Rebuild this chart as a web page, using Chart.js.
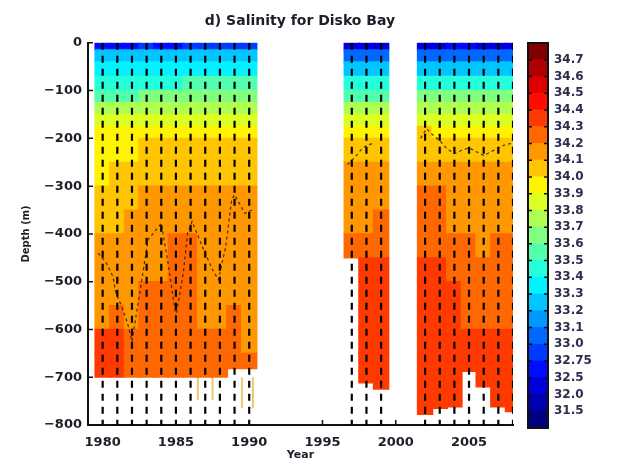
<!DOCTYPE html>
<html>
<head>
<meta charset="utf-8">
<script src="https://cdn.jsdelivr.net/npm/chart.js@4.4.0/dist/chart.umd.min.js"></script>
<style>
    html, body { margin: 0; padding: 0; background: #fff; }
    #wrap { position: relative; width: 620px; height: 464px; }
    #main { position: absolute; left: 0; top: 0; }
    #cbar { position: absolute; left: 520px; top: 0; }
</style>
</head>
<body>
<div id="wrap">
    <canvas id="main" width="620" height="464"></canvas>
    <canvas id="cbar" width="100" height="464"></canvas>
</div>
<script>
// station years and the depth where each cast ends
const stationYears = [1980, 1981, 1982, 1983, 1984, 1985, 1986, 1987, 1988, 1989, 1990,
    1997, 1998, 1999, 2002, 2003, 2004, 2005, 2006, 2007, 2008];
const castBottom = [-700, -700, -700, -700, -700, -700, -700, -700, -700, -682, -682,
    -450, -712, -725, -778, -765, -762, -688, -720, -762, -772];

// depth bands (m)
const bandEdges = [0, -15, -40, -70, -100, -125, -150, -175, -200, -250, -300, -350,
    -400, -450, -500, -550, -600, -650, -700, -750, -800];

// salinity per station (rows) and band (columns)
const salinityGrid = [
    [32.6, 33.25, 33.35, 33.45, 33.55, 33.75, 33.85, 33.95, 33.95, 33.95, 34.05, 34.05, 34.15, 34.15, 34.15, 34.15, 34.35, 34.35],
    [32.6, 33.25, 33.35, 33.45, 33.55, 33.75, 33.85, 33.95, 33.95, 34.05, 34.05, 34.05, 34.15, 34.15, 34.15, 34.25, 34.35, 34.35],
    [32.6, 33.25, 33.35, 33.45, 33.55, 33.75, 33.85, 33.95, 33.95, 34.05, 34.05, 34.15, 34.15, 34.15, 34.15, 34.15, 34.25, 34.25],
    [32.9, 33.25, 33.35, 33.45, 33.65, 33.75, 33.85, 33.95, 34.05, 34.05, 34.15, 34.15, 34.15, 34.15, 34.25, 34.25, 34.25, 34.25],
    [32.6, 33.25, 33.35, 33.45, 33.65, 33.75, 33.85, 33.95, 34.05, 34.05, 34.15, 34.15, 34.15, 34.15, 34.25, 34.25, 34.25, 34.25],
    [32.6, 33.25, 33.35, 33.45, 33.65, 33.75, 33.85, 33.95, 34.05, 34.05, 34.15, 34.15, 34.25, 34.25, 34.25, 34.25, 34.25, 34.25],
    [32.9, 33.25, 33.35, 33.55, 33.65, 33.75, 33.85, 33.95, 34.05, 34.05, 34.15, 34.15, 34.25, 34.25, 34.25, 34.25, 34.25, 34.25],
    [32.9, 33.25, 33.35, 33.55, 33.65, 33.75, 33.85, 33.95, 34.05, 34.05, 34.15, 34.15, 34.15, 34.15, 34.15, 34.15, 34.25, 34.25],
    [32.9, 33.25, 33.35, 33.55, 33.65, 33.75, 33.85, 33.95, 34.05, 34.05, 34.15, 34.15, 34.15, 34.15, 34.15, 34.15, 34.25, 34.25],
    [32.9, 33.25, 33.35, 33.55, 33.65, 33.75, 33.85, 33.95, 34.05, 34.05, 34.15, 34.15, 34.15, 34.15, 34.15, 34.25, 34.25, 34.25],
    [32.9, 33.25, 33.35, 33.55, 33.65, 33.75, 33.85, 33.95, 34.05, 34.05, 34.15, 34.15, 34.15, 34.15, 34.15, 34.15, 34.15, 34.25],
    [32.2, 33.05, 33.25, 33.45, 33.55, 33.75, 33.85, 33.95, 34.05, 34.15, 34.15, 34.15, 34.25],
    [32.2, 33.05, 33.25, 33.45, 33.55, 33.75, 33.85, 33.95, 34.05, 34.15, 34.15, 34.15, 34.25, 34.35, 34.35, 34.35, 34.35, 34.35, 34.35],
    [32.2, 33.05, 33.25, 33.45, 33.55, 33.75, 33.85, 33.95, 34.05, 34.15, 34.15, 34.25, 34.25, 34.35, 34.35, 34.35, 34.35, 34.35, 34.35],
    [32.2, 33.05, 33.25, 33.45, 33.65, 33.75, 33.85, 34.05, 34.05, 34.15, 34.25, 34.25, 34.25, 34.35, 34.35, 34.35, 34.35, 34.35, 34.35, 34.35],
    [32.2, 33.05, 33.25, 33.45, 33.65, 33.75, 33.85, 33.95, 34.05, 34.15, 34.25, 34.25, 34.25, 34.35, 34.35, 34.35, 34.35, 34.35, 34.35, 34.35],
    [32.6, 33.05, 33.25, 33.45, 33.65, 33.75, 33.85, 33.95, 34.05, 34.15, 34.15, 34.15, 34.25, 34.25, 34.35, 34.35, 34.35, 34.35, 34.35, 34.35],
    [32.6, 33.05, 33.25, 33.45, 33.65, 33.75, 33.85, 33.95, 34.05, 34.15, 34.15, 34.15, 34.25, 34.25, 34.25, 34.25, 34.35, 34.35],
    [32.2, 33.05, 33.25, 33.45, 33.65, 33.75, 33.85, 33.95, 34.05, 34.15, 34.15, 34.15, 34.15, 34.25, 34.25, 34.25, 34.35, 34.35, 34.35],
    [32.2, 33.05, 33.25, 33.45, 33.65, 33.75, 33.85, 33.95, 34.05, 34.15, 34.15, 34.15, 34.25, 34.25, 34.25, 34.25, 34.35, 34.35, 34.35, 34.35],
    [32.2, 33.05, 33.25, 33.45, 33.65, 33.75, 33.85, 33.95, 34.05, 34.15, 34.15, 34.15, 34.25, 34.25, 34.25, 34.25, 34.35, 34.35, 34.35, 34.35]
];

// contour line traced through the fields
const contourYear = [1979.7, 1980.25, 1980.7, 1980.9, 1981.3, 1981.7, 1982.0, 1982.6, 1983.1, 1984.0, 1984.5, 1985.0, 1985.5, 1985.8, 1986.1, 1986.9, 1987.5, 1987.9, 1988.4, 1988.8, 1989.0, 1989.7, 1990.2,
    null,
    1996.7, 1997.2, 1997.6, 1998.0, 1998.5,
    null,
    2001.7, 2002.1, 2002.6, 2003.0, 2003.5, 2004.0, 2004.5, 2005.0, 2005.5, 2006.0, 2006.5, 2007.0, 2007.5, 2008.0];
const contourDepth = [-440, -461, -489, -524, -552, -587, -625, -510, -412, -378, -468, -573, -482, -399, -374, -434, -475, -496, -427, -329, -318, -357, -350,
    null,
    -255, -240, -225, -215, -210,
    null,
    -200, -180, -195, -205, -222, -232, -225, -220, -228, -236, -228, -220, -213, -210];

// pale deep casts below the filled area
const deepCastYear = [1986.5, 1987.5, 1989.5, 1990.25];
const deepCastBottom = [-748, -748, -765, -765];

// colour levels
const levels = [31.5, 32.0, 32.5, 32.75, 33.0, 33.1, 33.2, 33.3, 33.4, 33.5, 33.6, 33.7, 33.8, 33.9, 34.0, 34.1, 34.2, 34.3, 34.4, 34.5, 34.6, 34.7];
const levelLabels = ["31.5", "32.0", "32.5", "32.75", "33.0", "33.1", "33.2", "33.3", "33.4", "33.5", "33.6", "33.7", "33.8", "33.9", "34.0", "34.1", "34.2", "34.3", "34.4", "34.5", "34.6", "34.7"];

const xTicks = [1980, 1985, 1990, 1995, 2000, 2005];
const yTicks = [0, -100, -200, -300, -400, -500, -600, -700, -800];

const FONT = "'DejaVu Sans', sans-serif";
const TEXT = "#1e1e28";

function clamp(v) { return Math.max(0, Math.min(1, v)); }

function jet(t) {
    const r = clamp(1.5 - Math.abs(4 * t - 3));
    const g = clamp(1.5 - Math.abs(4 * t - 2));
    const b = clamp(1.5 - Math.abs(4 * t - 1));
    return `rgb(${Math.round(r * 255)},${Math.round(g * 255)},${Math.round(b * 255)})`;
}

const segColors = [];
for (let k = 0; k <= levels.length; k++) segColors.push(jet(k / levels.length));

function colorFor(s) {
    return segColors[levels.filter(l => s >= l).length];
}

function buildCells() {
    const cells = [];
    stationYears.forEach((yr, i) => {
        const row = salinityGrid[i];
        for (let j = 0; j < bandEdges.length - 1; j++) {
            const top = bandEdges[j];
            if (top <= castBottom[i] || row[j] == null) continue;
            const lo = Math.max(bandEdges[j + 1], castBottom[i]);
            cells.push({ x: yr, y: [lo, top], s: row[j] });
        }
    });
    return cells;
}

function stationLines() {
    const pts = [];
    stationYears.forEach(yr => {
        pts.push({ x: yr, y: 0 }, { x: yr, y: -800 }, { x: yr, y: null });
    });
    return pts;
}

function deepLines() {
    const pts = [];
    deepCastYear.forEach((yr, i) => {
        pts.push({ x: yr, y: -700 }, { x: yr, y: deepCastBottom[i] }, { x: yr, y: null });
    });
    return pts;
}

const innerTicks = {
    id: "innerTicks",
    afterDatasetsDraw(chart) {
        const { ctx, chartArea: a, scales: { x, y } } = chart;
        ctx.save();
        ctx.strokeStyle = "#111";
        ctx.lineWidth = 1.5;
        ctx.beginPath();
        yTicks.forEach(v => {
            const py = y.getPixelForValue(v);
            ctx.moveTo(a.left, py);
            ctx.lineTo(a.left + 5, py);
        });
        xTicks.forEach(v => {
            const px = x.getPixelForValue(v);
            ctx.moveTo(px, a.bottom);
            ctx.lineTo(px, a.bottom - 5);
        });
        ctx.stroke();
        ctx.restore();
    }
};

new Chart(document.getElementById("main"), {
    type: "bar",
    data: {
        datasets: [
            {
                type: "line",
                data: stationLines(),
                borderColor: "#000",
                borderWidth: 2.2,
                borderDash: [7, 6],
                pointRadius: 0,
                spanGaps: false,
                order: 1
            },
            {
                type: "line",
                data: contourYear.map((yr, i) => ({ x: yr, y: contourDepth[i] })),
                borderColor: "rgba(30,20,0,0.8)",
                borderWidth: 1.2,
                borderDash: [3, 3],
                pointRadius: 0,
                spanGaps: false,
                order: 0
            },
            {
                type: "line",
                data: deepLines(),
                borderColor: "rgb(236,200,110)",
                borderWidth: 2,
                pointRadius: 0,
                spanGaps: false,
                order: 3
            },
            {
                data: buildCells(),
                backgroundColor: ctx => colorFor(ctx.raw.s),
                borderWidth: 0,
                barPercentage: 1.04,
                categoryPercentage: 1,
                inflateAmount: 0.6,
                clip: 0,
                order: 2
            }
        ]
    },
    options: {
        responsive: false,
        animation: false,
        layout: { padding: { left: 0, right: 20, top: 0, bottom: 0 } },
        plugins: {
            legend: { display: false },
            tooltip: { enabled: false },
            title: {
                display: true,
                text: "d) Salinity for Disko Bay",
                color: TEXT,
                font: { family: FONT, size: 14, weight: "bold" },
                padding: { top: 13, bottom: 13 }
            }
        },
        scales: {
            x: {
                type: "linear",
                min: 1979,
                max: 2008,
                offset: false,
                afterFit(scale) { scale.height = 39; },
                afterBuildTicks(scale) { scale.ticks = xTicks.map(v => ({ value: v })); },
                grid: { display: false, drawTicks: false },
                border: { display: true, color: "#111", width: 2 },
                ticks: {
                    color: TEXT,
                    font: { family: FONT, size: 13, weight: "bold" },
                    padding: 10,
                    maxRotation: 0,
                    callback: v => String(v)
                },
                title: {
                    display: true,
                    text: "Year",
                    color: TEXT,
                    font: { family: FONT, size: 11, weight: "bold" },
                    padding: { top: 0, bottom: 2 }
                }
            },
            y: {
                type: "linear",
                min: -800,
                max: 0,
                afterFit(scale) { scale.width = 88; },
                afterBuildTicks(scale) { scale.ticks = yTicks.map(v => ({ value: v })); },
                grid: { display: false, drawTicks: false },
                border: { display: true, color: "#111", width: 2 },
                ticks: {
                    color: TEXT,
                    font: { family: FONT, size: 13, weight: "bold" },
                    padding: 6,
                    callback: v => v < 0 ? "\u2212" + Math.abs(v) : String(v)
                },
                title: {
                    display: true,
                    text: "Depth (m)",
                    color: TEXT,
                    font: { family: FONT, size: 10, weight: "bold" },
                    padding: { top: 20, bottom: 0 }
                }
            },
            // empty right margin that holds the colour bar
            side: {
                type: "linear",
                position: "right",
                afterFit(scale) { scale.width = 87; },
                grid: { display: false, drawTicks: false },
                border: { display: false },
                ticks: { display: false }
            }
        }
    },
    plugins: [innerTicks]
});

// colour bar
const barFrame = {
    id: "barFrame",
    afterDatasetsDraw(chart) {
        const { ctx, chartArea: a, scales: { y } } = chart;
        ctx.save();
        ctx.strokeStyle = "#111";
        ctx.lineWidth = 2;
        ctx.strokeRect(a.left, a.top, a.right - a.left, a.bottom - a.top);
        ctx.lineWidth = 1.5;
        ctx.beginPath();
        levels.forEach((l, i) => {
            const py = y.getPixelForValue(i + 1);
            ctx.moveTo(a.left, py);
            ctx.lineTo(a.left + 4, py);
            ctx.moveTo(a.right, py);
            ctx.lineTo(a.right - 4, py);
        });
        ctx.stroke();
        ctx.restore();
    }
};

new Chart(document.getElementById("cbar"), {
    type: "bar",
    data: {
        labels: [""],
        datasets: segColors.map((c, k) => ({
            data: [[k, k + 1]],
            backgroundColor: c,
            borderWidth: 0,
            grouped: false,
            barPercentage: 1,
            categoryPercentage: 1,
            inflateAmount: 0.4
        }))
    },
    options: {
        responsive: false,
        animation: false,
        layout: { padding: { left: 8, right: 0, top: 43, bottom: 36 } },
        plugins: { legend: { display: false }, tooltip: { enabled: false } },
        scales: {
            x: { display: false },
            y: {
                position: "right",
                min: 0,
                max: segColors.length,
                afterFit(scale) { scale.width = 72; },
                afterBuildTicks(scale) { scale.ticks = levels.map((l, i) => ({ value: i + 1 })); },
                grid: { display: false, drawTicks: false },
                border: { display: false },
                ticks: {
                    autoSkip: false,
                    color: "#2c2c4e",
                    font: { family: FONT, size: 12, weight: "bold" },
                    padding: 6,
                    callback: v => levelLabels[v - 1]
                }
            }
        }
    },
    plugins: [barFrame]
});
</script>
</body>
</html>
